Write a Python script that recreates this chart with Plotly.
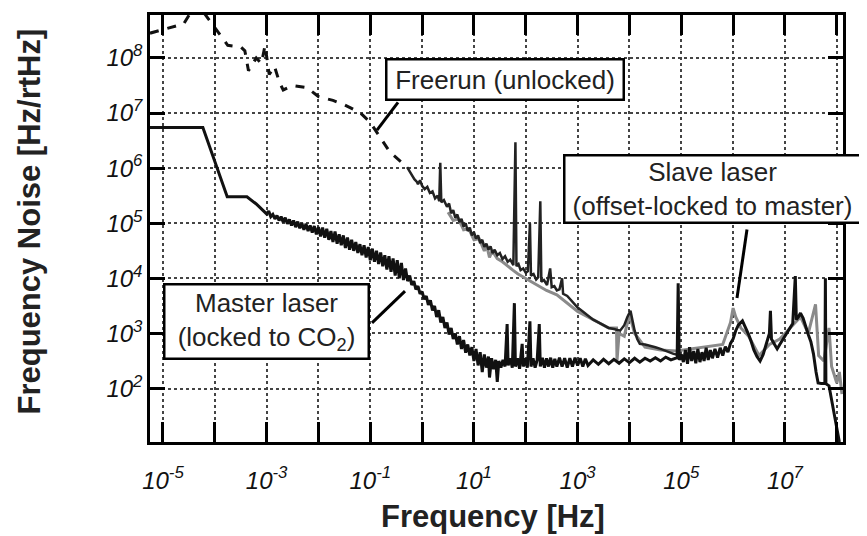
import numpy as np
import plotly.graph_objects as go

# ---------------- data (log10 of frequency [Hz] and noise [Hz/rtHz]) ----------------
master_logf = [-5.25, -4.23, -3.76, -3.38, -3.2,
               -3.0, -2.96, -2.92, -2.88, -2.84, -2.8, -2.76, -2.72, -2.68, -2.64, -2.6, -2.56, -2.52,
               -2.48, -2.44, -2.4, -2.36, -2.32, -2.28, -2.24, -2.2, -2.16, -2.12, -2.08, -2.04, -2.0,
               -1.96, -1.92, -1.88, -1.84, -1.8, -1.76, -1.72, -1.68, -1.64, -1.6, -1.56, -1.52, -1.48,
               -1.44, -1.4, -1.36, -1.32, -1.28, -1.24, -1.2, -1.16, -1.12, -1.08, -1.04, -1.0, -0.96,
               -0.92, -0.88, -0.84, -0.8, -0.76, -0.72, -0.68, -0.64, -0.6, -0.56, -0.52, -0.48, -0.44,
               -0.4, -0.36, -0.32, -0.28, -0.24, -0.2, -0.16, -0.12, -0.08, -0.04, 0.0, 0.04, 0.08, 0.12,
               0.16, 0.2, 0.24, 0.28, 0.32, 0.36, 0.4, 0.44, 0.48, 0.52, 0.56, 0.6, 0.64, 0.68, 0.72,
               0.76, 0.8, 0.84, 0.88, 0.92, 0.96, 1.0, 1.04, 1.08, 1.12, 1.16, 1.2, 1.24, 1.28, 1.3,
               1.34, 1.38, 1.42, 1.45, 1.48, 1.52, 1.56, 1.6, 1.64, 1.66, 1.7, 1.74, 1.78, 1.8, 1.84,
               1.88, 1.93, 1.95, 1.99, 2.03, 2.08, 2.1, 2.14, 2.18, 2.22, 2.26, 2.28, 2.32, 2.36, 2.4,
               2.44, 2.48, 2.52, 2.56, 2.6, 2.65, 2.7, 2.75, 2.8, 2.85, 2.9, 2.95, 3.0, 3.05, 3.1, 3.15,
               3.2, 3.3, 3.4, 3.5, 3.6, 3.7, 3.8, 3.9, 4.0, 4.1, 4.2, 4.3, 4.4, 4.5, 4.6, 4.7, 4.8,
               4.92, 4.94, 4.96, 5.0, 5.04, 5.08, 5.12, 5.16, 5.2, 5.24, 5.28, 5.32, 5.36, 5.4, 5.44,
               5.48, 5.52, 5.56, 5.6, 5.65, 5.7, 5.75, 5.8, 5.85, 5.9, 5.95, 6.0, 6.05, 6.1, 6.18, 6.25,
               6.3, 6.35, 6.4, 6.46, 6.52, 6.58, 6.64, 6.7, 6.72, 6.74, 6.8, 6.85, 6.9, 6.95, 7.0, 7.05,
               7.1, 7.15, 7.2, 7.22, 7.26, 7.3, 7.35, 7.4, 7.45, 7.5, 7.55, 7.6, 7.64, 7.7, 7.77, 7.78,
               7.79, 7.85, 7.9, 7.95, 8.0, 8.05]
master_logn = [6.74, 6.74, 5.48, 5.48, 5.35,
               5.17, 5.22, 5.12, 5.16, 5.08, 5.14, 5.05, 5.12, 5.02, 5.1, 4.99, 5.07, 4.96,
               5.05, 4.93, 5.03, 4.91, 5.0, 4.88, 4.99, 4.86, 4.96, 4.83, 4.95, 4.8, 4.93,
               4.76, 4.92, 4.74, 4.9, 4.7, 4.86, 4.66, 4.85, 4.63, 4.8, 4.6, 4.78, 4.55,
               4.74, 4.52, 4.7, 4.5, 4.66, 4.46, 4.62, 4.42, 4.6, 4.38, 4.57, 4.33, 4.54,
               4.3, 4.5, 4.26, 4.47, 4.22, 4.42, 4.16, 4.4, 4.12, 4.36, 4.05, 4.33, 4.0,
               4.28, 3.97, 4.18, 3.95, 4.05, 3.88, 3.95, 3.8, 3.86, 3.72, 3.76, 3.62, 3.68, 3.52,
               3.6, 3.42, 3.5, 3.3, 3.42, 3.2, 3.3, 3.1, 3.2, 2.98, 3.1, 2.9, 3.0, 2.8, 2.95,
               2.72, 2.88, 2.65, 2.8, 2.6, 2.75, 2.5, 2.72, 2.42, 2.66, 2.3, 2.62, 2.38, 2.58, 2.2,
               2.55, 2.35, 2.52, 2.12, 2.5, 2.38, 2.52, 2.4, 3.17, 2.42, 2.55, 2.38, 3.55, 2.4, 2.55,
               2.36, 2.81, 2.4, 2.55, 2.38, 3.22, 2.4, 2.55, 2.38, 2.52, 3.17, 2.4, 2.56, 2.38, 2.55,
               2.4, 2.56, 2.38, 2.54, 2.4, 2.56, 2.4, 2.55, 2.38, 2.55, 2.4, 2.56, 2.42, 2.55, 2.4, 2.54,
               2.42, 2.52, 2.44, 2.53, 2.45, 2.53, 2.46, 2.54, 2.47, 2.55, 2.48, 2.55, 2.5, 2.56, 2.5, 2.57, 2.52,
               2.56, 3.91, 2.52, 2.62, 2.48, 2.7, 2.45, 2.75, 2.5, 2.68, 2.46, 2.72, 2.48, 2.66, 2.5,
               2.74, 2.52, 2.7, 2.55, 2.72, 2.56, 2.74, 2.6, 2.76, 2.66, 2.82, 2.9, 3.05, 3.15, 3.23, 3.1,
               2.98, 2.85, 2.7, 2.58, 2.5, 2.62, 2.8, 3.0, 3.41, 2.9, 2.8, 2.72, 2.8, 2.88, 2.95, 3.02,
               3.1, 3.18, 4.04, 3.25, 3.3, 3.37, 3.28, 3.12, 2.98, 2.85, 2.63, 2.3, 2.1, 2.09, 2.09, 4.0,
               2.09, 2.05, 1.8, 1.55, 1.3, 1.03]

freerun_low_logf = [-5.25, -4.6, -4.35, -4.1, -3.75, -3.5, -3.42, -3.35, -3.2, -3.1, -3.03, -2.95,
                    -2.85, -2.75, -2.68, -2.5, -2.22, -2.0, -1.72, -1.5, -1.2, -1.0, -0.8, -0.62, -0.29]
freerun_low_logn = [8.45, 8.62, 9.0, 8.68, 8.23, 8.2, 8.13, 7.77, 8.0, 7.9, 8.23, 7.7,
                    7.85, 7.55, 7.42, 7.5, 7.46, 7.3, 7.23, 7.15, 7.01, 6.83, 6.55, 6.29, 6.02]

freerun_high_logf = [-0.29, -0.25, -0.2, -0.15, -0.1, -0.08, -0.04, 0.0, 0.05, 0.1, 0.15, 0.2, 0.25,
                     0.3, 0.33, 0.35, 0.37, 0.42, 0.48, 0.52, 0.56, 0.6, 0.64, 0.68, 0.72, 0.76, 0.8,
                     0.84, 0.88, 0.92, 0.96, 1.0, 1.04, 1.08, 1.12, 1.16, 1.2, 1.24, 1.28, 1.32, 1.36,
                     1.4, 1.45, 1.5, 1.55, 1.6, 1.65, 1.7, 1.76, 1.8, 1.82, 1.86, 1.9, 1.95, 2.0, 2.04,
                     2.08, 2.1, 2.15, 2.2, 2.24, 2.28, 2.3, 2.35, 2.41, 2.47, 2.5, 2.55, 2.6, 2.65, 2.7,
                     2.72, 2.8, 2.9, 3.0, 3.1, 3.2, 3.3, 3.4, 3.5, 3.6, 3.7, 3.82, 3.9, 3.96, 4.02, 4.06,
                     4.1, 4.15, 4.2, 4.3, 4.4, 4.5, 4.6, 4.7, 4.85, 5.0]
freerun_high_logn = [6.02, 5.95, 5.88, 5.8, 5.75, 5.71, 5.78, 5.68, 5.62, 5.66, 5.55, 5.58, 5.45,
                     5.5, 5.4, 6.1, 5.38, 5.42, 5.3, 5.36, 5.18, 5.24, 5.1, 5.16, 5.02, 5.08, 4.94,
                     5.0, 4.86, 4.92, 4.78, 4.84, 4.72, 4.78, 4.64, 4.7, 4.57, 4.63, 4.52, 4.58, 4.46,
                     4.52, 4.42, 4.46, 4.35, 4.4, 4.3, 4.34, 4.24, 6.47, 4.22, 4.26, 4.15, 4.18, 4.1, 4.13,
                     5.0, 4.05, 4.08, 3.98, 4.02, 5.4, 3.94, 3.97, 3.88, 4.18, 3.84, 3.86, 3.78, 3.8, 4.0,
                     3.72, 3.68, 3.57, 3.47, 3.4, 3.32, 3.25, 3.2, 3.15, 3.1, 3.08, 3.05, 3.15, 3.3, 3.41, 3.2,
                     3.05, 2.9, 2.81, 2.8, 2.78, 2.75, 2.72, 2.68, 2.63, 2.6]

slave_logf = [0.5, 0.6, 0.7, 0.8, 0.9, 1.0, 1.1, 1.2, 1.25, 1.3, 1.35, 1.45, 1.55, 1.65, 1.75, 1.85,
              2.0, 2.2, 2.4, 2.6, 2.8, 3.0, 3.3, 3.6, 3.75, 3.76, 3.8, 3.9, 4.0, 4.1, 4.3, 4.6, 4.9,
              5.2, 5.5, 5.8, 5.95, 6.0, 6.05, 6.15, 6.3, 6.5, 6.7, 6.9, 7.1, 7.3, 7.45, 7.59, 7.65,
              7.75, 7.85, 7.9, 8.0, 8.05, 8.1]
slave_logn = [5.2, 5.05, 5.08, 4.88, 4.9, 4.7, 4.72, 4.5, 4.58, 4.38, 4.5, 4.36, 4.3, 4.22, 4.15, 4.08,
              4.0, 3.9, 3.78, 3.7, 3.55, 3.4, 3.25, 3.1, 3.1, 2.5, 3.0, 2.95, 3.35, 3.0, 2.75, 2.7, 2.68,
              2.72, 2.75, 2.8, 3.2, 3.46, 3.3, 3.1, 2.95, 2.6, 2.8, 2.9, 3.1, 3.3, 3.0, 3.53, 2.6,
              2.5, 3.1, 2.4, 2.1, 2.3, 1.9]

x_tick_exp = [-5, -4, -3, -2, -1, 0, 1, 2, 3, 4, 5, 6, 7, 8]
x_labelled = [-5, -3, -1, 1, 3, 5, 7]
y_tick_exp = [2, 3, 4, 5, 6, 7, 8]


def p10(a):
    return np.power(10.0, np.array(a, dtype=float))


FONT = "Liberation Sans, Arial, Helvetica, sans-serif"

fig = go.Figure()
fig.add_trace(go.Scatter(x=p10(slave_logf), y=p10(slave_logn), mode="lines",
                         line=dict(color="#8a8a8a", width=3), name="Slave laser"))
fig.add_trace(go.Scatter(x=p10(freerun_low_logf), y=p10(freerun_low_logn), mode="lines",
                         line=dict(color="#111111", width=3, dash="dash"), name="Freerun"))
fig.add_trace(go.Scatter(x=p10(freerun_high_logf), y=p10(freerun_high_logn), mode="lines",
                         line=dict(color="#222222", width=2.5), name="Freerun"))
fig.add_trace(go.Scatter(x=p10(master_logf), y=p10(master_logn), mode="lines",
                         line=dict(color="#111111", width=3), name="Master laser"))


def sup(e):
    return "<i>10<sup>%d</sup></i>" % e


fig.update_xaxes(type="log", range=[-5.25, 8.12],
                 tickvals=p10(x_tick_exp),
                 ticktext=[sup(e) if e in x_labelled else "" for e in x_tick_exp],
                 ticks="inside", ticklen=20, tickwidth=2.5, tickcolor="black",
                 showline=True, linewidth=2.5, linecolor="black", mirror="ticks",
                 showgrid=True, gridcolor="#444444", gridwidth=1.5, griddash="dot",
                 zeroline=False, tickfont=dict(family=FONT, size=24, color="#111111"),
                 ticklabelstandoff=15)
fig.update_yaxes(type="log", range=[1.03, 8.78],
                 tickvals=p10(y_tick_exp),
                 ticktext=[sup(e) for e in y_tick_exp],
                 ticks="inside", ticklen=15, tickwidth=2.5, tickcolor="black",
                 showline=True, linewidth=2.5, linecolor="black", mirror="ticks",
                 showgrid=True, gridcolor="#444444", gridwidth=1.5, griddash="dot",
                 zeroline=False, tickfont=dict(family=FONT, size=24, color="#111111"),
                 ticklabelstandoff=0)

W0, H0 = 693.0, 430.0


def px(x):
    return (x - 150) / W0


def py(y):
    return (442 - y) / H0


box = dict(xref="paper", yref="paper", showarrow=False, bgcolor="white",
           bordercolor="black", borderwidth=2.5, borderpad=0,
           font=dict(family=FONT, size=26, color="#222222"), xanchor="center", yanchor="middle")
fig.add_annotation(text="Freerun (unlocked)", x=px(505), y=py(76.5), width=235, height=38, **box)
fig.add_annotation(text="Slave laser<br>(offset-locked to master)", x=px(712.5), y=py(187),
                   width=294, height=65, **box)
fig.add_annotation(text="Master laser<br>(locked to CO<sub>2</sub>)", x=px(266.5), y=py(320.5),
                   width=202, height=72, **box)

for (x0, y0, x1, y1) in [(398, 100, 377, 128), (747, 228, 737, 297), (372, 322, 405, 290)]:
    fig.add_shape(type="line", xref="paper", yref="paper", x0=px(x0), y0=py(y0), x1=px(x1), y1=py(y1),
                  line=dict(color="black", width=3))

fig.add_annotation(text="<b>Frequency [Hz]</b>", xref="paper", yref="paper", x=px(493), y=py(517),
                   showarrow=False, font=dict(family=FONT, size=31, color="#222222"),
                   xanchor="center", yanchor="middle")
fig.add_annotation(text="<b>Frequency Noise [Hz/rtHz]</b>", xref="paper", yref="paper", x=px(30),
                   y=py(220), textangle=-90, showarrow=False,
                   font=dict(family=FONT, size=31, color="#222222"), xanchor="center", yanchor="middle")

# page body has an 8px margin: shift the figure so the plot area lands where the reference has it
fig.update_layout(width=859, height=528, margin=dict(l=142, r=24, t=4, b=94),
                  paper_bgcolor="white", plot_bgcolor="white", showlegend=False)

fig.write_html("out.html")
